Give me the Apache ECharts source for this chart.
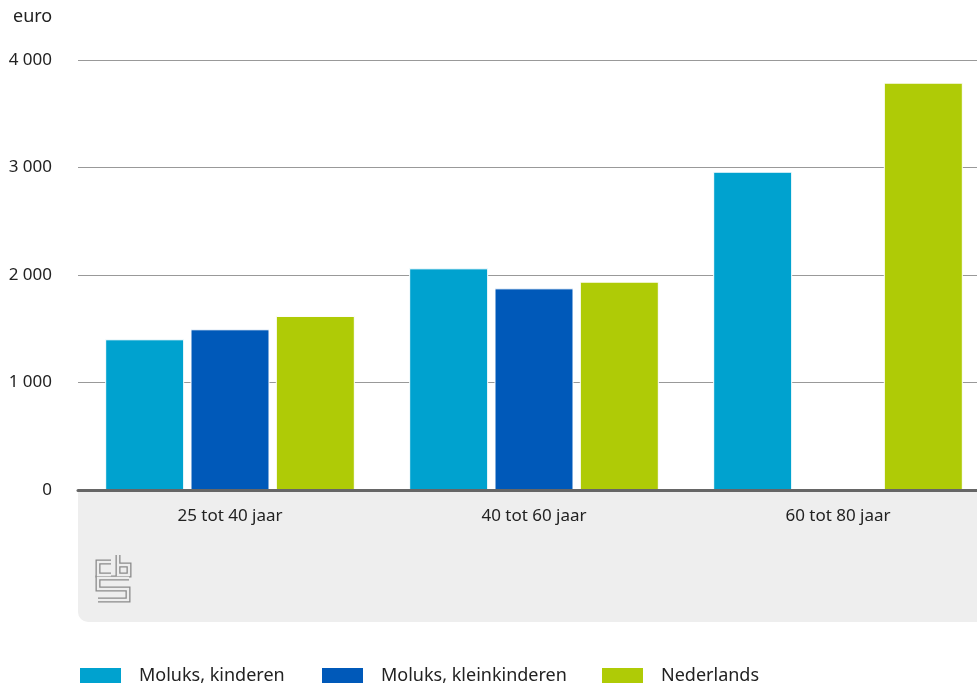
<!DOCTYPE html>
<html>
<head>
<meta charset="utf-8">
<script src="https://cdn.jsdelivr.net/npm/echarts@6/dist/echarts.min.js"></script>
<style>
html,body{margin:0;padding:0;background:#fff;overflow:hidden;}
#c{width:990px;height:683px;}
</style>
</head>
<body>
<div id="c"></div>
<script>
var categories = ['25 tot 40 jaar', '40 tot 60 jaar', '60 tot 80 jaar'];
var seriesNames = ['Moluks, kinderen', 'Moluks, kleinkinderen', 'Nederlands'];
var molKinderen = [1402, 2062, 2961];
var molKleinkinderen = [1495, 1876, null];
var nederlands = [1619, 1938, 3789];
var yTicks = [0, 1000, 2000, 3000, 4000];
var colors = ['#00a2cf', '#0059b9', '#afcb06'];

var FONT = 'Noto Sans';
var chart = echarts.init(document.getElementById('c'), null, {renderer: 'canvas'});

function fmt(v) {
  return String(v).replace(/\B(?=(\d{3})+(?!\d))/g, ' ');
}

var values = [molKinderen, molKleinkinderen, nederlands];
var series = values.map(function (d, i) {
  return {
    name: seriesNames[i],
    type: 'bar',
    data: d,
    barWidth: 79,
    barGap: '8%',
    itemStyle: {color: colors[i], borderColor: '#ffffff', borderWidth: 1},
    z: 3
  };
});

var legendLefts = [78, 320, 600];
var legends = seriesNames.map(function (n, i) {
  return {
    data: [n],
    left: legendLefts[i],
    top: 666,
    padding: 0,
    itemWidth: 43,
    itemHeight: 17,
    icon: 'rect',
    selectedMode: false,
    textStyle: {fontFamily: FONT, fontSize: 18, color: '#222', padding: [0, 0, 0, 12]}
  };
});

var logoStroke = '#8a8a8a';
var logoShapes = [
  [[111, 562], [98, 562], [98, 575], [111, 575]],
  [[118, 555], [118, 575], [129, 575], [129, 565], [118, 565]],
  [[129, 578], [98, 578], [98, 589], [128, 589], [128, 600], [98, 600]]
];
var graphics = [
  {
    type: 'rect',
    shape: {x: 78, y: 490, width: 912, height: 132, r: [0, 0, 0, 10]},
    style: {fill: '#eeeeee'},
    z: -10
  },
  {
    type: 'text',
    left: 13,
    top: 8,
    style: {text: 'euro', fontFamily: FONT, fontSize: 18, fill: '#222'}
  }
];
logoShapes.forEach(function (p) {
  graphics.push({type: 'polyline', shape: {points: p}, style: {stroke: logoStroke, lineWidth: 5, fill: null, lineJoin: 'miter'}, z: 1});
  graphics.push({type: 'polyline', shape: {points: p}, style: {stroke: '#eeeeee', lineWidth: 2.4, fill: null, lineJoin: 'miter'}, z: 2});
});

chart.setOption({
  animation: false,
  color: colors,
  textStyle: {fontFamily: FONT},
  grid: {left: 78, right: 0, top: 60, bottom: 193, containLabel: false},
  legend: legends,
  xAxis: {
    type: 'category',
    data: categories,
    axisTick: {show: false},
    axisLine: {show: true, lineStyle: {color: '#666666', width: 3}},
    axisLabel: {fontFamily: FONT, fontSize: 17, color: '#222', margin: 18},
    z: 5
  },
  yAxis: {
    type: 'value',
    min: yTicks[0],
    max: yTicks[yTicks.length - 1],
    interval: 1000,
    axisLine: {show: false},
    axisTick: {show: false},
    splitLine: {lineStyle: {color: '#999999', width: 1}},
    axisLabel: {fontFamily: FONT, fontSize: 17, color: '#222', margin: 26, formatter: fmt}
  },
  graphic: graphics,
  series: series
});
</script>
</body>
</html>
